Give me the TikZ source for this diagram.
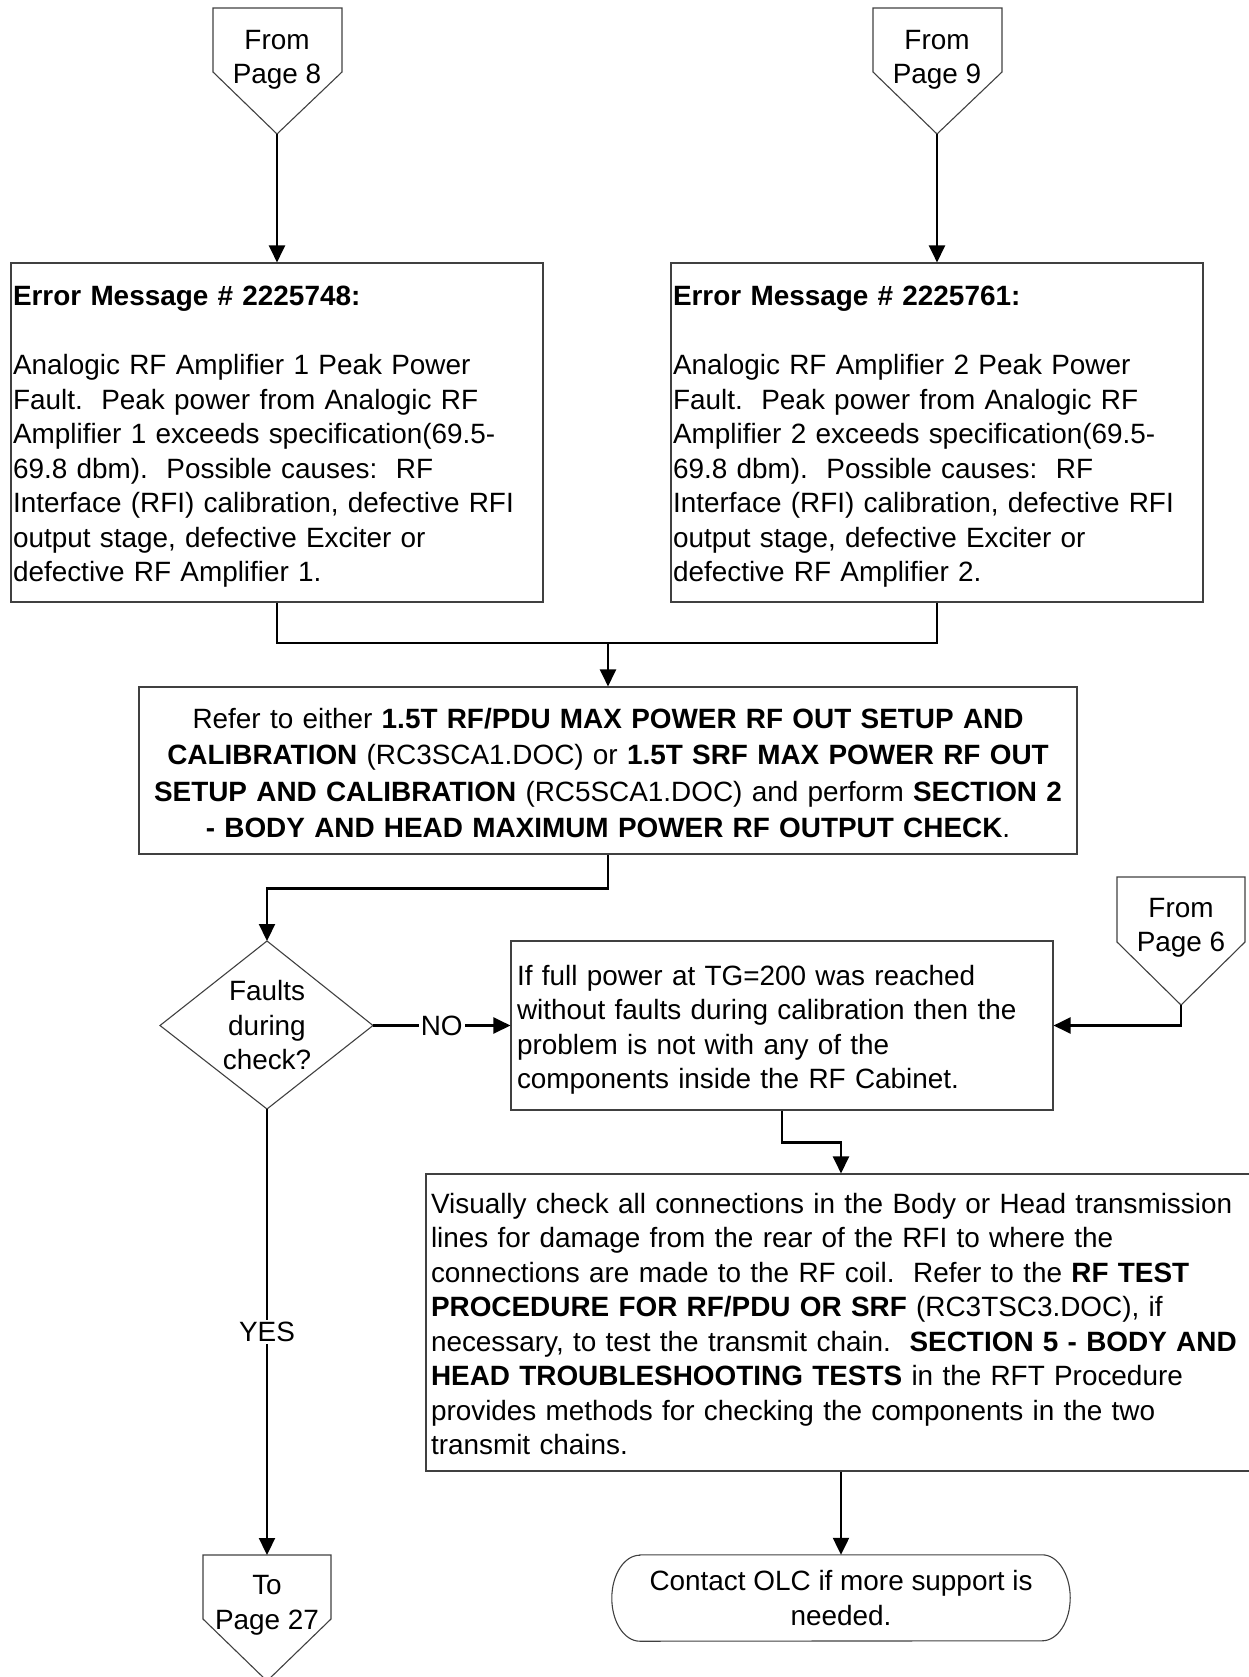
\documentclass[tikz,border=0pt]{standalone}
\usepackage{fontspec}
\setmainfont{Liberation Sans}
\usetikzlibrary{arrows.meta}
\begin{document}
\frenchspacing
\begin{tikzpicture}[x=1pt,y=-1pt,
  every node/.style={font=\fontsize{27.9}{34.5}\selectfont, inner sep=0pt},
  box/.style={draw=black!75, line width=1.1pt, rectangle},
  txt/.style={align=left, yshift=-4.5pt},
  shapeline/.style={draw=black!75, line width=1.1pt},
  conn/.style={line width=2.2pt, -{Triangle[length=17pt,width=16pt]}},
  link/.style={line width=2.2pt},
  lbl/.style={fill=white, inner sep=2pt}]
\useasboundingbox (0,0) rectangle (1249,1677);
\begin{scope}
\clip (0,0) rectangle (1249,1677);

% off-page connectors (top)
\draw[shapeline] (213,8) -- (342,8) -- (342,72) -- (277,134) -- (213,72) -- cycle;
\coordinate (p8tip) at (277,134);
\node[align=center] (p8) at (277,60) {From\\Page 8};

\draw[shapeline] (873,8) -- (1002,8) -- (1002,72) -- (937,134) -- (873,72) -- cycle;
\coordinate (p9tip) at (937,134);
\node[align=center] (p9) at (937,60) {From\\Page 9};

% error boxes
\node[box, minimum width=532pt, minimum height=339pt] (b1) at (277,432.5) {};
\node[txt, text width=528pt] (b1t) at (b1.center)
{\textbf{Error Message \# 2225748:}\\[34.5pt]
Analogic RF Amplifier 1 Peak Power\\
Fault.\ \ Peak power from Analogic RF\\
Amplifier 1 exceeds specification(69.5-\\
69.8 dbm).\ \ Possible causes:\ \ RF\\
Interface (RFI) calibration, defective RFI\\
output stage, defective Exciter or\\
defective RF Amplifier 1.};

\node[box, minimum width=532pt, minimum height=339pt] (b2) at (937,432.5) {};
\node[txt, text width=528pt] (b2t) at (b2.center)
{\textbf{Error Message \# 2225761:}\\[34.5pt]
Analogic RF Amplifier 2 Peak Power\\
Fault.\ \ Peak power from Analogic RF\\
Amplifier 2 exceeds specification(69.5-\\
69.8 dbm).\ \ Possible causes:\ \ RF\\
Interface (RFI) calibration, defective RFI\\
output stage, defective Exciter or\\
defective RF Amplifier 2.};

% refer box
\node[box, minimum width=938pt, minimum height=167pt] (b3) at (608,770.5) {};
\node[txt, align=center, text width=936pt, yshift=2pt, font=\fontsize{27.9}{36.4}\selectfont] (b3t) at (b3.center)
{Refer to either \textbf{1.5T RF/PDU MAX POWER RF OUT SETUP AND}\\
\textbf{CALIBRATION} (RC3SCA1.DOC) or \textbf{1.5T SRF MAX POWER RF OUT}\\
\textbf{SETUP AND CALIBRATION} (RC5SCA1.DOC) and perform \textbf{SECTION 2}\\
\textbf{- BODY AND HEAD MAXIMUM POWER RF OUTPUT CHECK}.};

% decision
\coordinate (dt) at (267,941);
\coordinate (db) at (267,1109);
\coordinate (dl) at (160,1025.5);
\coordinate (dr) at (373,1025.5);
\draw[shapeline] (dt) -- (dr) -- (db) -- (dl) -- cycle;
\node[align=center] (dtext) at (267,1025.5) {Faults\\during\\check?};

% box 4
\node[box, minimum width=542pt, minimum height=169pt] (b4) at (782,1025.5) {};
\node[txt, text width=530pt] (b4t) at (b4.center)
{If full power at TG=200 was reached\\
without faults during calibration then the\\
problem is not with any of the\\
components inside the RF Cabinet.};

% from page 6
\draw[shapeline] (1117,877) -- (1245,877) -- (1245,942) -- (1181,1005) -- (1117,942) -- cycle;
\coordinate (p6tip) at (1181,1005);
\node[align=center] (p6) at (1181,928) {From\\Page 6};

% box 5
\node[box, minimum width=830pt, minimum height=297pt] (b5) at (841,1322.5) {};
\node[txt, text width=820pt, yshift=3.2pt] (b5t) at (b5.center)
{Visually check all connections in the Body or Head transmission\\
lines for damage from the rear of the RFI to where the\\
connections are made to the RF coil.\ \ Refer to the \textbf{RF TEST}\\
\textbf{PROCEDURE FOR RF/PDU OR SRF} (RC3TSC3.DOC), if\\
necessary, to test the transmit chain.\ \ \textbf{SECTION 5 - BODY AND}\\
\textbf{HEAD TROUBLESHOOTING TESTS} in the RFT Procedure\\
provides methods for checking the components in the two\\
transmit chains.};

% terminal
\node[minimum width=458pt, minimum height=86pt, align=center] (olc) at (841,1598)
{Contact OLC if more support is\\needed.};
\draw[shapeline] ([xshift=28pt]olc.north west) -- ([xshift=-28pt]olc.north east)
  arc[start angle=90,end angle=-90,x radius=28pt,y radius=43pt]
  -- ([xshift=28pt]olc.south west)
  arc[start angle=270,end angle=90,x radius=28pt,y radius=43pt] -- cycle;

% to page 27
\draw[shapeline] (203,1555) -- (331,1555) -- (331,1619) -- (267,1681) -- (203,1619) -- cycle;
\coordinate (p27top) at (267,1555);
\node[align=center] (p27) at (267,1605.5) {To\\Page 27};

% connectors
\draw[conn] (p8tip) -- (b1.north);
\draw[conn] (p9tip) -- (b2.north);
\coordinate (m) at (608,643);
\draw[link] (b1.south) |- (m);
\draw[link] (b2.south) |- (m);
\draw[conn] (m) -- (b3.north);
\draw[conn] (b3.south) -- ++(0,34) -| (dt);
\draw[conn] (dr) -- node[lbl] (no) {NO} (b4.west);
\draw[conn] (p6tip) |- (b4.east);
\draw[conn] (b4.south) -- ++(0,32) -| (b5.north);
\draw[conn] (b5.south) -- (olc.north);
\draw[conn] (db) -- node[lbl] (yes) {YES} (p27top);
\end{scope}
\end{tikzpicture}
\end{document}
